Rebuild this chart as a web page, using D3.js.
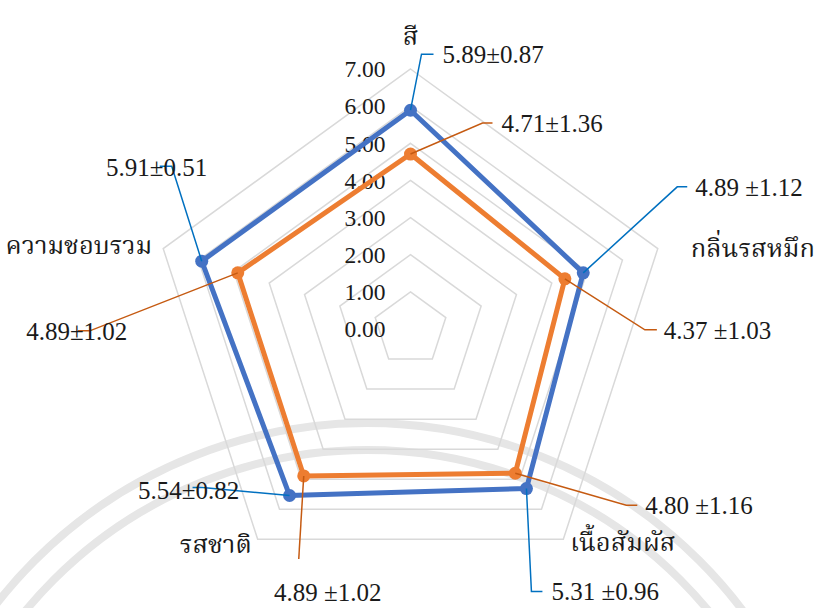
<!DOCTYPE html>
<html>
<head>
<meta charset="utf-8">
<script src="https://cdn.jsdelivr.net/npm/d3@7"></script>
<style>
  html, body { margin: 0; padding: 0; background: #ffffff; }
  svg { display: block; }
</style>
</head>
<body>
<svg id="chart" width="816" height="608"></svg>
<script>
// Sensory attributes (clockwise from the top)
const categories = ["สี", "กลิ่นรสหมึก", "เนื้อสัมผัส", "รสชาติ", "ความชอบรวม"];

// Mean scores and standard deviations
const blueMeans   = [5.89, 4.89, 5.31, 5.54, 5.91];
const blueSD      = [0.87, 1.12, 0.96, 0.82, 0.51];
const orangeMeans = [4.71, 4.37, 4.80, 4.89, 4.89];
const orangeSD    = [1.36, 1.03, 1.16, 1.02, 1.02];

// Radial axis ticks
const tickValues = [0, 1, 2, 3, 4, 5, 6, 7];

const SERIF = "Liberation Serif";
const THAI = "Liberation Serif, Noto Serif Thai, Noto Sans Thai, Noto Sans, sans-serif";

const svg = d3.select("#chart");
const cx = 410.5, cy = 329, R = 260;

const r = d3.scaleLinear().domain([0, 7]).range([0, R]);
const angle = d3.scaleLinear().domain([0, categories.length]).range([-Math.PI / 2, 1.5 * Math.PI]);
const pt = (i, v) => [cx + r(v) * Math.cos(angle(i)), cy + r(v) * Math.sin(angle(i))];

// faint seal in the background
const seal = svg.append("g").attr("fill", "none").attr("stroke", "#e6e6e6").attr("stroke-width", 8);
[470, 443].forEach(rad => {
  seal.append("circle").attr("cx", 367).attr("cy", 893).attr("r", rad);
});

// pentagon gridlines
const ring = d3.line();
const grid = svg.append("g");
tickValues.slice(1).forEach(t => {
  const pts = categories.map((c, i) => pt(i, t));
  grid.append("path")
    .attr("d", ring(pts) + "Z")
    .attr("fill", "none")
    .attr("stroke", "#d9d9d9")
    .attr("stroke-width", 1.5);
});

// tick labels
svg.append("g").selectAll("text")
  .data(tickValues)
  .join("text")
  .attr("font-family", SERIF)
  .attr("fill", "#1a1a1a")
  .attr("x", cx - 25)
  .attr("y", d => cy - r(d))
  .attr("dy", "0.35em")
  .attr("text-anchor", "end")
  .attr("font-size", 23.5)
  .text(d => d3.format(".2f")(d));

// category labels placed relative to the outer vertex
const catLayout = [
  { dx: 0,   dy: -33, anchor: "middle" },
  { dx: 33,  dy: -1,  anchor: "start" },
  { dx: 7,   dy: 3,   anchor: "start" },
  { dx: -6,  dy: 5,   anchor: "end" },
  { dx: -11, dy: -4,  anchor: "end" }
];
svg.append("g").selectAll("text")
  .data(categories)
  .join("text")
  .attr("font-family", THAI)
  .attr("fill", "#1a1a1a")
  .attr("x", (d, i) => pt(i, 7)[0] + catLayout[i].dx)
  .attr("y", (d, i) => pt(i, 7)[1] + catLayout[i].dy)
  .attr("dy", "0.35em")
  .attr("text-anchor", (d, i) => catLayout[i].anchor)
  .attr("font-size", 25.5)
  .text(d => d);

// series polygons and markers
const series = [
  { means: blueMeans,   sd: blueSD,   color: "#4472c4", leader: "#0070c0" },
  { means: orangeMeans, sd: orangeSD, color: "#ed7d31", leader: "#c55a11" }
];

// leader layout: elbow offset from the point, horizontal arm, text offset from arm end
const leaderLayout = [
  [ // blue
    { ex: 11,   ey: -56, arm: 12,  tx: 9,   ty: 0,  anchor: "start",  sep: "" },
    { ex: 94,   ey: -86, arm: 10,  tx: 8,   ty: 0,  anchor: "start",  sep: " " },
    { ex: 5,    ey: 103, arm: 11,  tx: 9,   ty: 0,  anchor: "start",  sep: " " },
    { ex: -87,  ey: -8,  arm: -10, tx: -4,  ty: 3,  anchor: "middle", sep: "" },
    { ex: -30,  ey: -95, arm: -12, tx: -3,  ty: 1,  anchor: "middle", sep: "" }
  ],
  [ // orange
    { ex: 72,   ey: -31, arm: 10,  tx: 9,   ty: 0,  anchor: "start",  sep: "" },
    { ex: 80,   ey: 51,  arm: 12,  tx: 7,   ty: 0,  anchor: "start",  sep: " " },
    { ex: 111,  ey: 32,  arm: 11,  tx: 8,   ty: 0,  anchor: "start",  sep: " " },
    { ex: -5,   ey: 83,  arm: 0,   tx: 29,  ty: 33, anchor: "middle", sep: " " },
    { ex: -148, ey: 58,  arm: -12, tx: -1,  ty: 0,  anchor: "middle", sep: "" }
  ]
];

series.forEach(s => {
  const pts = s.means.map((v, i) => pt(i, v));
  svg.append("path")
    .attr("d", ring(pts) + "Z")
    .attr("fill", "none")
    .attr("stroke", s.color)
    .attr("stroke-width", 5)
    .attr("stroke-linejoin", "round");
});

series.forEach(s => {
  const pts = s.means.map((v, i) => pt(i, v));
  svg.append("g").selectAll("circle")
    .data(pts)
    .join("circle")
    .attr("cx", d => d[0])
    .attr("cy", d => d[1])
    .attr("r", 6.5)
    .attr("fill", s.color);
});

// leader lines and value labels
series.forEach((s, k) => {
  const g = svg.append("g");
  s.means.forEach((v, i) => {
    const [x0, y0] = pt(i, v);
    const L = leaderLayout[k][i];
    const ex = x0 + L.ex, ey = y0 + L.ey;
    const hx = ex + L.arm;
    g.append("path")
      .attr("d", d3.line()([[x0, y0], [ex, ey], [hx, ey]]))
      .attr("fill", "none")
      .attr("stroke", s.leader)
      .attr("stroke-width", 1.5);
    g.append("text")
      .attr("font-family", SERIF)
      .attr("fill", "#1a1a1a")
      .attr("x", hx + L.tx)
      .attr("y", ey + L.ty)
      .attr("dy", "0.35em")
      .attr("text-anchor", L.anchor)
      .attr("font-size", 25)
      .text(v.toFixed(2) + L.sep + "±" + s.sd[i].toFixed(2));
  });
});
</script>
</body>
</html>
